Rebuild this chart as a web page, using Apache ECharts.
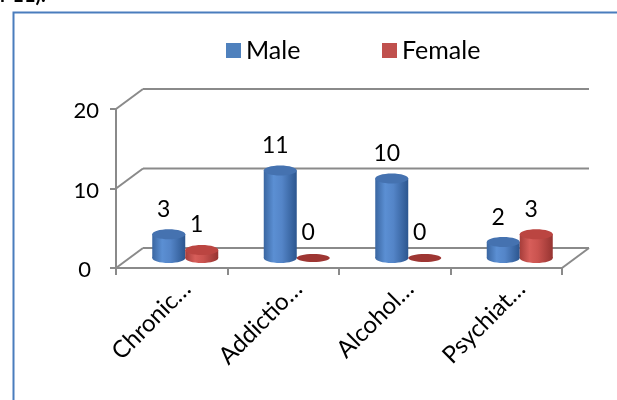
<!DOCTYPE html>
<html>
<head>
<meta charset="utf-8">
<script src="https://cdn.jsdelivr.net/npm/echarts@6/dist/echarts.min.js"></script>
<style>
  html, body { margin: 0; padding: 0; background: #ffffff; }
  #chart { width: 617px; height: 400px; }
</style>
</head>
<body>
<div id="chart"></div>
<script>
// Chart data
const categories = ['Chronic…', 'Addictio…', 'Alcohol…', 'Psychiat…'];
const maleValues = [3, 11, 10, 2];
const femaleValues = [1, 0, 0, 3];
const yTicks = [0, 10, 20];

const FONT = 'Lato, "Open Sans", sans-serif';
const AXIS_GRAY = '#8a8a8a';
// offset of the back wall from the front plane (3D depth)
const DEPTH_X = 27, DEPTH_Y = -20;
const HALF_W = 16.5, RY = 5;

const palettes = {
  Male: {
    body: [[0, '#3a66a1'], [0.3, '#5b8fd3'], [0.55, '#5485c8'], [1, '#2c568f']],
    top: '#4572b0', flat: '#3a5f95', side: -1
  },
  Female: {
    body: [[0, '#a63d3a'], [0.3, '#d75e5a'], [0.55, '#ca534f'], [1, '#963431']],
    top: '#bb4541', flat: '#9e3633', side: 1
  }
};

// back wall gridlines and depth diagonals, one per y tick
function frameItem(params, api) {
  const cs = params.coordSys;
  const v = api.value(1);
  const y = api.coord([0, v])[1];
  const L = cs.x, R = cs.x + cs.width;
  const style = { stroke: AXIS_GRAY, lineWidth: 2, fill: null };
  const children = [
    { type: 'line', shape: { x1: L, y1: y, x2: L + DEPTH_X, y2: y + DEPTH_Y }, style },
    { type: 'line', shape: { x1: L + DEPTH_X, y1: y + DEPTH_Y, x2: R + DEPTH_X, y2: y + DEPTH_Y }, style }
  ];
  if (v === 0) {
    children.push({ type: 'line', shape: { x1: R, y1: y, x2: R + DEPTH_X, y2: y + DEPTH_Y }, style });
  }
  return { type: 'group', children };
}

// cylinder with its value label, standing mid-depth
function cylinderItem(name) {
  return function (params, api) {
    const p = palettes[name];
    const i = api.value(0), v = api.value(1);
    const base = api.coord([i, 0]);
    const top = api.coord([i, v]);
    const cx = base[0] + DEPTH_X / 2 + p.side * HALF_W;
    const by = base[1] + DEPTH_Y / 2;
    const ty = top[1] + DEPTH_Y / 2;
    const grad = new echarts.graphic.LinearGradient(0, 0, 1, 0,
      p.body.map(s => ({ offset: s[0], color: s[1] })));
    const children = [];
    if (v > 0) {
      children.push({ type: 'ellipse', shape: { cx: cx, cy: by, rx: HALF_W, ry: RY }, style: { fill: grad } });
      children.push({ type: 'rect', shape: { x: cx - HALF_W, y: ty, width: HALF_W * 2, height: by - ty }, style: { fill: grad } });
      children.push({ type: 'ellipse', shape: { cx: cx, cy: ty, rx: HALF_W, ry: RY }, style: { fill: p.top } });
    } else {
      children.push({ type: 'ellipse', shape: { cx: cx, cy: by, rx: HALF_W, ry: RY - 1 }, style: { fill: p.flat } });
    }
    children.push({
      type: 'text',
      x: cx - 5, y: ty - 25,
      style: {
        text: String(v), fill: '#000', font: '23px ' + FONT,
        align: 'center', verticalAlign: 'middle',
        textAlign: 'center', textVerticalAlign: 'middle'
      }
    });
    return { type: 'group', children };
  };
}

const chart = echarts.init(document.getElementById('chart'), null, { renderer: 'canvas' });

const legendText = { fontFamily: FONT, fontSize: 25, color: '#000' };

chart.setOption({
  animation: false,
  backgroundColor: '#ffffff',
  legend: [
    { data: ['Male'], left: 221, top: 33, icon: 'rect', itemWidth: 15, itemHeight: 15, textStyle: legendText },
    { data: ['Female'], left: 377, top: 33, icon: 'rect', itemWidth: 15, itemHeight: 15, textStyle: legendText }
  ],
  grid: [
    { left: 116, right: 55, top: 109, bottom: 132 },
    { left: 131, right: 40, top: 109, bottom: 132 }
  ],
  xAxis: [
    {
      type: 'category', gridIndex: 0, data: categories,
      axisLine: { show: true, lineStyle: { color: AXIS_GRAY, width: 2 } },
      axisTick: { show: true, length: 7, lineStyle: { color: AXIS_GRAY, width: 2 } },
      axisLabel: { show: false },
      splitLine: { show: false }
    },
    {
      type: 'category', gridIndex: 1, data: categories,
      axisLine: { show: false }, axisTick: { show: false },
      axisLabel: { rotate: 45, margin: 17, fontFamily: FONT, fontSize: 24, color: '#000' }
    }
  ],
  yAxis: [
    {
      type: 'value', gridIndex: 0, min: 0, max: 20, interval: 10,
      axisLine: { show: true, lineStyle: { color: AXIS_GRAY, width: 2 } },
      axisTick: { show: true, length: 6, lineStyle: { color: AXIS_GRAY, width: 2 } },
      splitLine: { show: false },
      axisLabel: {
        margin: 17, color: '#000',
        formatter: v => (v === 0 ? '{z|0}' : '{n|' + v + '}'),
        rich: {
          z: { fontFamily: FONT, fontSize: 22, color: '#000', padding: [4, 8, 0, 0] },
          n: { fontFamily: FONT, fontSize: 22, color: '#000', padding: [4, 0, 0, 0] }
        }
      }
    },
    { type: 'value', gridIndex: 1, min: 0, max: 20, show: false }
  ],
  graphic: [
    { type: 'rect', left: 11, top: 10, shape: { x: 0, y: 0, width: 640, height: 420 },
      style: { fill: null, stroke: '#4a7dbd', lineWidth: 2 } },
    { type: 'text', left: 0, top: -14,
      style: { text: 'r 11).', font: 'bold 20px ' + FONT, fill: '#000' } }
  ],
  series: [
    {
      type: 'custom', name: 'frame', xAxisIndex: 0, yAxisIndex: 0, z: 1,
      data: yTicks.map(v => [0, v]), encode: { x: 0, y: 1 },
      renderItem: frameItem, silent: true
    },
    {
      type: 'custom', name: 'Male', xAxisIndex: 0, yAxisIndex: 0, z: 3,
      itemStyle: { color: '#4f81bd' },
      data: maleValues.map((v, i) => [i, v]), encode: { x: 0, y: 1 },
      renderItem: cylinderItem('Male')
    },
    {
      type: 'custom', name: 'Female', xAxisIndex: 0, yAxisIndex: 0, z: 3,
      itemStyle: { color: '#c0504d' },
      data: femaleValues.map((v, i) => [i, v]), encode: { x: 0, y: 1 },
      renderItem: cylinderItem('Female')
    }
  ]
});
</script>
</body>
</html>
